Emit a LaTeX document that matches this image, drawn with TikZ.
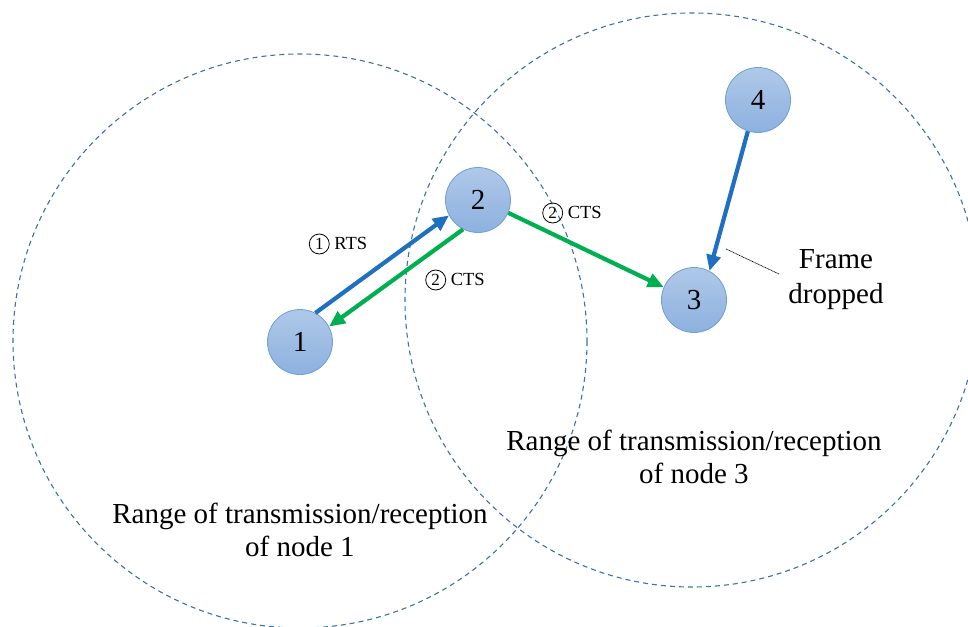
\documentclass[tikz,border=0pt]{standalone}
\usepackage{fontspec}
\setmainfont{Liberation Serif}
\usetikzlibrary{arrows.meta}
\definecolor{rangeblue}{HTML}{41719C}
\definecolor{arrblue}{HTML}{1F70C1}
\definecolor{arrgreen}{HTML}{00B050}
\definecolor{nodetop}{HTML}{AFC8E8}
\definecolor{nodebot}{HTML}{8DB1DF}
\definecolor{nodeedge}{HTML}{6E9FD6}
\tikzset{
  station/.style={circle, minimum size=65pt, inner sep=0pt, draw=nodeedge, line width=0.8pt,
    top color=nodetop, bottom color=nodebot, font=\fontsize{29}{32}\selectfont},
  rangecircle/.style={draw=rangeblue, line width=1.1pt, dash pattern=on 5pt off 4pt},
  msg/.style={line width=4.2pt, -{Triangle[length=16pt,width=14pt]}},
  small/.style={font=\fontsize{18.5}{20}\selectfont},
  big/.style={font=\fontsize{29}{33}\selectfont, align=center},
  cnumstyle/.style={circle, draw, line width=0.8pt, minimum size=20pt, inner sep=0pt, font=\fontsize{17}{17}\selectfont}
}
\newcommand{\cnum}[1]{\tikz[baseline=(c.base)]\node[cnumstyle] (c) {#1};}
\begin{document}
\begin{tikzpicture}[x=1pt,y=-1pt]
\useasboundingbox (0,0) rectangle (968,626);
\clip (0,0) rectangle (968,626);
\draw[rangecircle] (300,341) circle[radius=287];
\draw[rangecircle] (692,300) circle[radius=287];
\node[station] (n1) at (300,342) {1};
\node[station] (n2) at (478,200) {2};
\node[station] (n3) at (694,300) {3};
\node[station] (n4) at (758,100) {4};
\draw[msg, arrblue] (n1.62) -- (n2.208);
\draw[msg, arrgreen] (n2.243) -- (n1.28);
\draw[msg, arrgreen] (n2.-23) -- (n3.157);
\draw[msg, arrblue] (n4.252) -- (n3.62);
\node[small] (l1) at (338,244) {\cnum{1} RTS};
\node[small] (l2) at (455,280) {\cnum{2} CTS};
\node[small] (l3) at (572,213) {\cnum{2} CTS};
\node[big, font=\fontsize{29}{35}\selectfont] (fd) at (836,280) {Frame\\dropped};
\coordinate (p1) at (726,249);
\coordinate (p2) at (779,274);
\draw[black, line width=0.7pt, dash pattern=on 1pt off 0.6pt] (p1) -- (p2);
\node[big] (r3) at (694,457) {Range of transmission/reception\\of node 3};
\node[big] (r1) at (300,530) {Range of transmission/reception\\of node 1};
\end{tikzpicture}
\end{document}
